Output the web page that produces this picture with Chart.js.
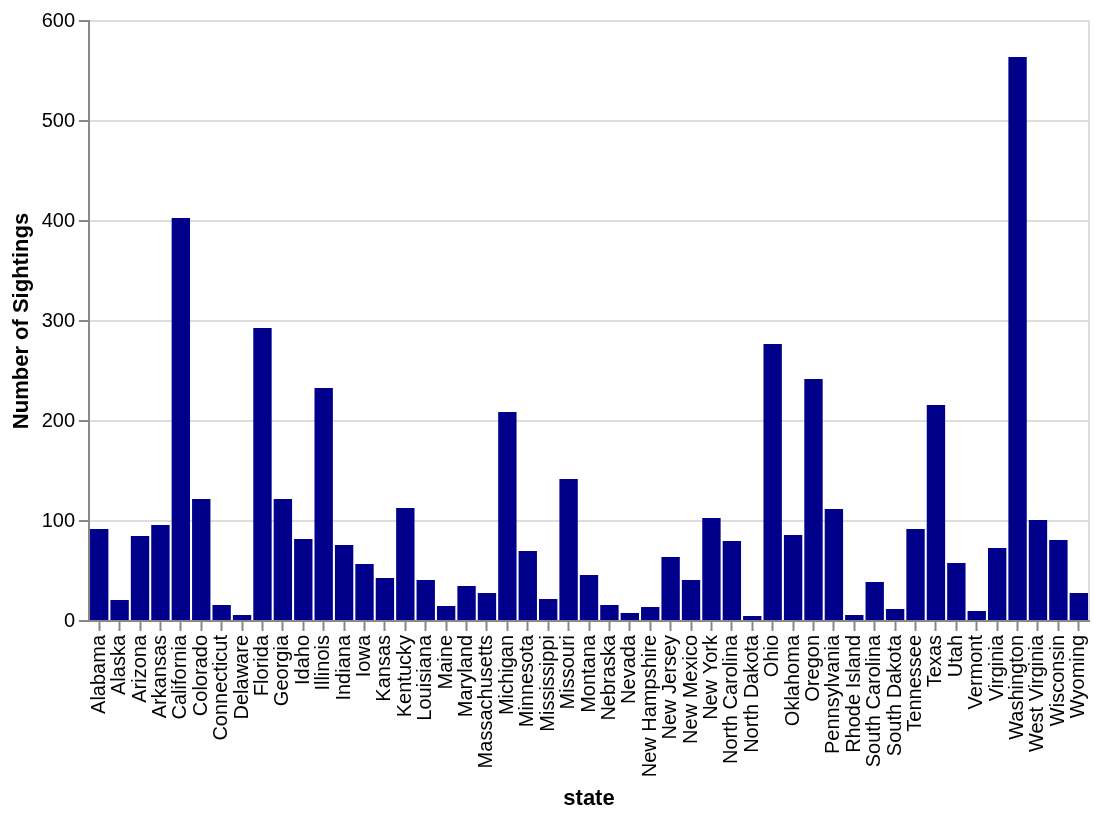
<!DOCTYPE html>
<html>
<head>
<meta charset="utf-8">
<script src="https://cdn.jsdelivr.net/npm/chart.js@4.4.1/dist/chart.umd.min.js"></script>
<style>
  html, body { margin: 0; padding: 0; background: #fff; }
  #wrap { width: 1098px; height: 818px; position: relative; }
</style>
</head>
<body>
<div id="wrap"><canvas id="c" width="1098" height="818"></canvas></div>
<script>
const states = ["Alabama","Alaska","Arizona","Arkansas","California","Colorado","Connecticut","Delaware","Florida","Georgia","Idaho","Illinois","Indiana","Iowa","Kansas","Kentucky","Louisiana","Maine","Maryland","Massachusetts","Michigan","Minnesota","Mississippi","Missouri","Montana","Nebraska","Nevada","New Hampshire","New Jersey","New Mexico","New York","North Carolina","North Dakota","Ohio","Oklahoma","Oregon","Pennsylvania","Rhode Island","South Carolina","South Dakota","Tennessee","Texas","Utah","Vermont","Virginia","Washington","West Virginia","Wisconsin","Wyoming"];
const sightings = [92,21,85,96,403,122,16,6,293,122,82,233,76,57,43,113,41,15,35,28,209,70,22,142,46,16,8,14,64,41,103,80,5,277,86,242,112,6,39,12,92,216,58,10,73,564,101,81,28];
const yTicks = [0,100,200,300,400,500,600];
const xTitle = "state";
const yTitle = "Number of Sightings";

const FONT = "'Liberation Sans', Arial, Helvetica, sans-serif";

const framePlugin = {
  id: 'frame',
  beforeDraw(chart) {
    const a = chart.chartArea, ctx = chart.ctx;
    ctx.save();
    ctx.strokeStyle = '#dddddd';
    ctx.lineWidth = 2;
    ctx.strokeRect(a.left, a.top, a.right - a.left, a.bottom - a.top);
    ctx.restore();
  }
};

new Chart(document.getElementById('c'), {
  type: 'bar',
  data: {
    labels: states,
    datasets: [{
      data: sightings,
      backgroundColor: '#00008b',
      borderWidth: 0,
      categoryPercentage: 0.9,
      barPercentage: 1.0
    }]
  },
  options: {
    responsive: false,
    animation: false,
    devicePixelRatio: 1,
    layout: { padding: { top: 21, right: 9, left: 0, bottom: 0 } },
    plugins: { legend: { display: false }, tooltip: { enabled: false } },
    scales: {
      x: {
        type: 'category',
        offset: true,
        afterFit: s => { s.height = 197; s.paddingLeft = 0; s.paddingRight = 0; },
        grid: { display: true, drawOnChartArea: false, drawTicks: true, tickLength: 10, tickColor: '#888888', tickWidth: 2, offset: false },
        border: { display: true, color: '#888888', width: 2 },
        ticks: {
          autoSkip: false, minRotation: 90, maxRotation: 90, padding: 4,
          color: '#000', font: { family: FONT, size: 20 }
        },
        title: { display: true, text: xTitle, color: '#000', font: { family: FONT, size: 22, weight: 'bold' }, padding: { top: 4, bottom: 6 } }
      },
      y: {
        min: 0, max: 600,
        afterFit: s => { s.width = 89; },
        afterBuildTicks: s => { s.ticks = yTicks.map(v => ({ value: v })); },
        grid: { color: '#dddddd', lineWidth: 2, drawTicks: true, tickLength: 10, tickColor: '#888888', tickWidth: 2 },
        border: { display: true, color: '#888888', width: 2 },
        ticks: { padding: 4, color: '#000', font: { family: FONT, size: 20 } },
        title: { display: true, text: yTitle, color: '#000', font: { family: FONT, size: 22, weight: 'bold' }, padding: { top: 9, bottom: 0 } }
      }
    }
  },
  plugins: [framePlugin]
});
</script>
</body>
</html>
